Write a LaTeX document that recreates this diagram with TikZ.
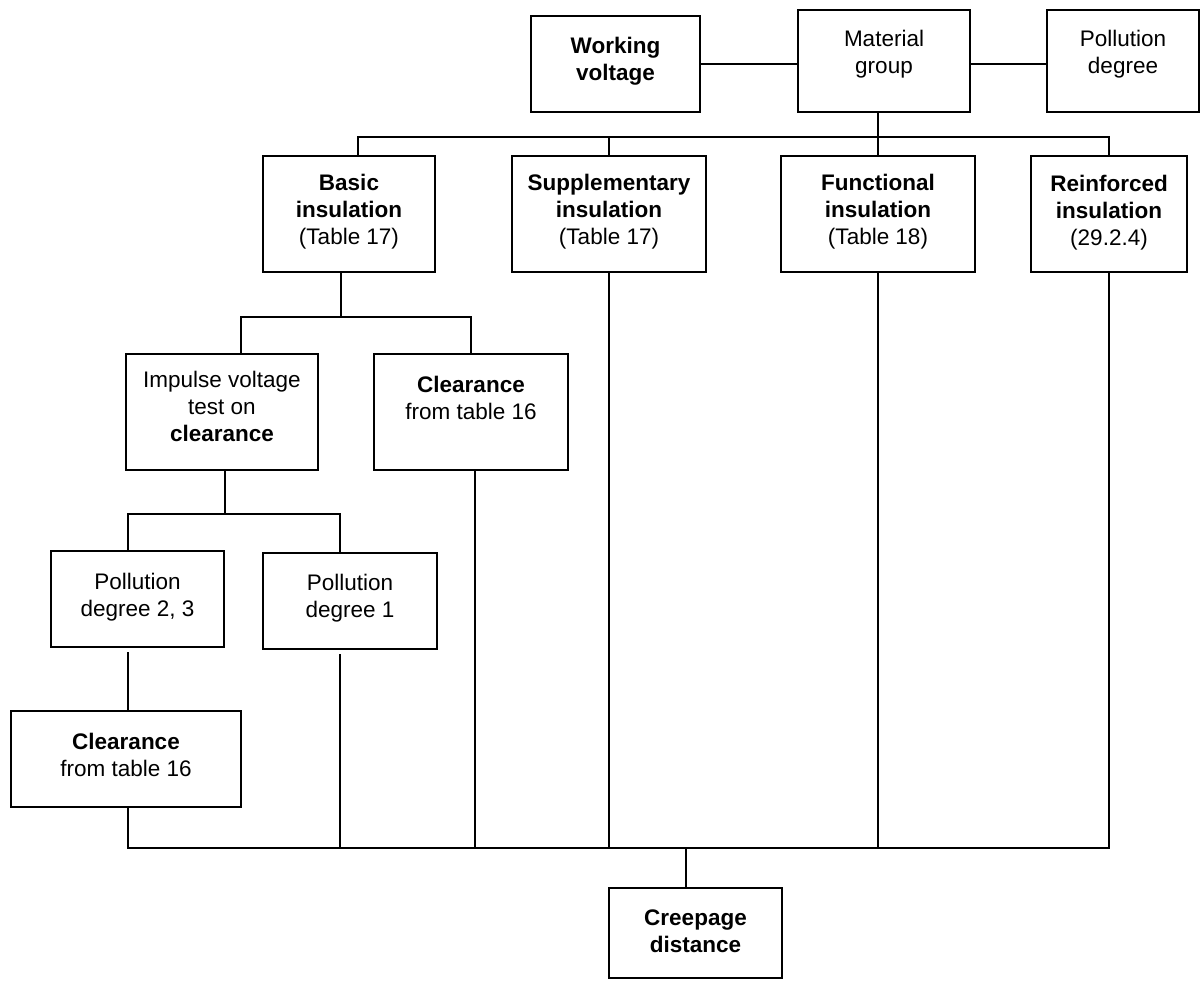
\documentclass[tikz,border=0pt]{standalone}
\usepackage{fontspec}
\setmainfont{Liberation Sans}
\begin{document}
\begin{tikzpicture}[x=1pt,y=-1pt,
  box/.style={draw=black, line width=2pt, inner sep=0pt, fill=none},
  txt/.style={align=center, inner sep=0pt, font=\fontsize{22.5}{27}\selectfont},
  conn/.style={draw=black, line width=2pt, line join=miter}]
\useasboundingbox (0,0) rectangle (1201,980);
% boxes
\node[box, minimum width=169pt, minimum height=96pt]  (wv)  at (615.5,64) {};
\node[box, minimum width=172pt, minimum height=102pt] (mg)  at (884,61) {};
\node[box, minimum width=152pt, minimum height=102pt] (pd)  at (1123,61) {};
\node[box, minimum width=172pt, minimum height=116pt] (bs)  at (349,214) {};
\node[box, minimum width=194pt, minimum height=116pt] (sp)  at (609,214) {};
\node[box, minimum width=194pt, minimum height=116pt] (fn)  at (878,214) {};
\node[box, minimum width=156pt, minimum height=116pt] (rf)  at (1109,214) {};
\node[box, minimum width=192pt, minimum height=116pt] (im)  at (222,412) {};
\node[box, minimum width=194pt, minimum height=116pt] (cu)  at (471,412) {};
\node[box, minimum width=173pt, minimum height=96pt]  (p23) at (137.5,599) {};
\node[box, minimum width=174pt, minimum height=96pt]  (p1)  at (350,601) {};
\node[box, minimum width=230pt, minimum height=96pt]  (cl)  at (126,759) {};
\node[box, minimum width=173pt, minimum height=90pt]  (cr)  at (695.5,933) {};
% texts
\node[txt] (wvT)  at (615.5,61) {\textbf{Working}\\\textbf{voltage}};
\node[txt] (mgT)  at (884,54) {Material\\group};
\node[txt] (pdT)  at (1123,54) {Pollution\\degree};
\node[txt] (bsT)  at (349,212) {\textbf{Basic}\\\textbf{insulation}\\(Table 17)};
\node[txt] (spT)  at (609,212) {\textbf{Supplementary}\\\textbf{insulation}\\(Table 17)};
\node[txt] (fnT)  at (878,212) {\textbf{Functional}\\\textbf{insulation}\\(Table 18)};
\node[txt] (rfT)  at (1109,213) {\textbf{Reinforced}\\\textbf{insulation}\\(29.2.4)};
\node[txt] (imT)  at (222,406) {Impulse voltage\\test on\\\textbf{clearance}};
\node[txt] (cuT)  at (471,398) {\textbf{Clearance}\\from table 16};
\node[txt] (p23T) at (137.5,597) {Pollution\\degree 2, 3};
\node[txt] (p1T)  at (350,598) {Pollution\\degree 1};
\node[txt] (clT)  at (126,755) {\textbf{Clearance}\\from table 16};
\node[txt] (crT)  at (695.5,931) {\textbf{Creepage}\\\textbf{distance}};
% junction coordinates
\coordinate (busL) at (358,137);
\coordinate (busR) at (1109,137);
\coordinate (j1)   at (341,317);
\coordinate (sbL)  at (241,317);
\coordinate (sbR)  at (471,317);
\coordinate (j2)   at (225,514);
\coordinate (ssL)  at (128,514);
\coordinate (ssR)  at (340,514);
\coordinate (bbL)  at (128,848);
\coordinate (bbR)  at (1109,848);
\coordinate (j3)   at (475,848);
\coordinate (j4)   at (686,848);
% top connectors
\path[conn] (wv.east) -- (wv.east -| mg.west);
\path[conn] (mg.east |- wv.east) -- (pd.west |- wv.east);
\path[conn] (mg.south -| fn.north) -- (fn.north);
\path[conn] (busL |- bs.north) -- (busL) -- (busR) -- (rf.north);
\path[conn] (sp.north |- busL) -- (sp.north);
% basic insulation branch
\path[conn] (bs.south -| j1) -- (j1);
\path[conn] (sbL |- im.north) -- (sbL) -- (sbR) -- (cu.north);
\path[conn] (im.south -| j2) -- (j2);
\path[conn] (ssL |- p23.north) -- (ssL) -- (ssR) -- (ssR |- p1.north);
\path[conn] ([yshift=-4pt]p23.south -| ssL) -- (ssL |- cl.north);
% lines down to the creepage bus
\path[conn] (cl.south -| bbL) -- (bbL) -- (bbR) -- (rf.south);
\path[conn] ([yshift=-4pt]p1.south -| ssR) -- (ssR |- bbL);
\path[conn] (cu.south -| j3) -- (j3);
\path[conn] (sp.south) -- (sp.south |- bbL);
\path[conn] (fn.south) -- (fn.south |- bbL);
\path[conn] (j4) -- (j4 |- cr.north);
\end{tikzpicture}
\end{document}
